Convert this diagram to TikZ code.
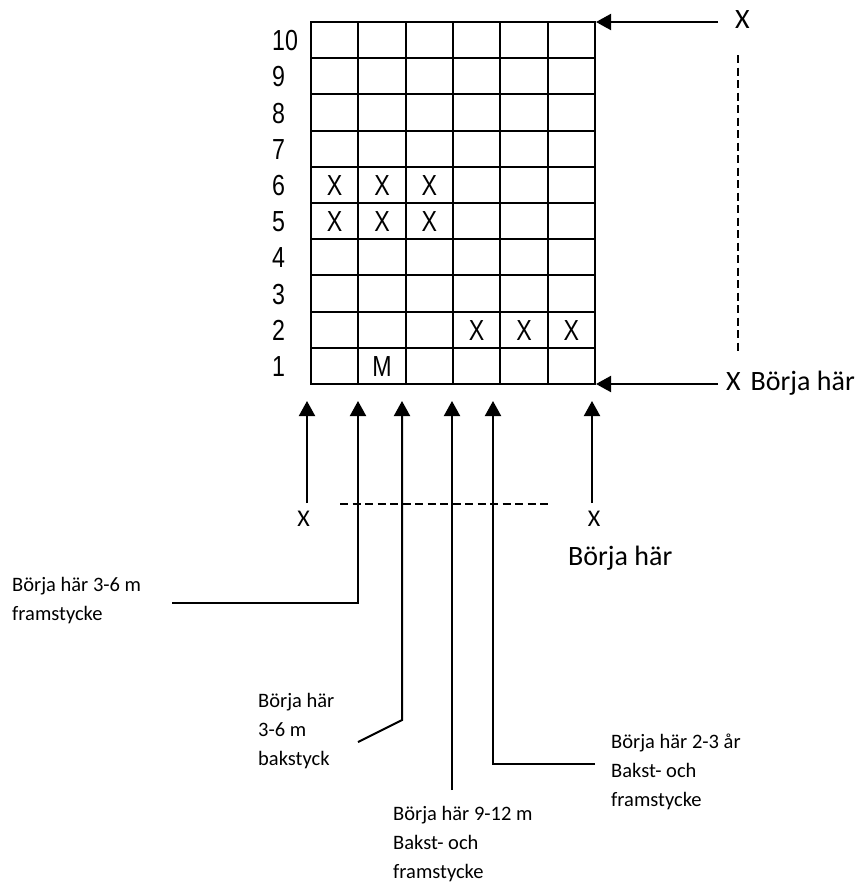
\documentclass[tikz,border=0pt]{standalone}
\usepackage{fontspec}
\setmainfont{Carlito}
\newfontfamily\narrowfont[FakeStretch=0.8]{Liberation Sans}
\usetikzlibrary{arrows.meta}
\newcommand\labtab[1]{\begin{tabular}[t]{@{}l@{}}#1\end{tabular}}
\begin{document}
\begin{tikzpicture}[x=1pt,y=-1pt,
  gridline/.style={line width=2pt},
  arr/.style={line width=2pt, -{Triangle[length=15pt,width=16pt]}},
  dashline/.style={line width=1.3pt, dash pattern=on 8pt off 4.5pt},
  rowlab/.style={font=\narrowfont\fontsize{29}{30}\selectfont, anchor=base west, inner sep=0pt},
  cellx/.style={font=\narrowfont\fontsize{29}{30}\selectfont, anchor=base, inner sep=0pt},
  biglab/.style={font=\fontsize{28}{30}\selectfont, anchor=base west, inner sep=0pt},
  midlab/.style={font=\fontsize{24}{30}\selectfont, anchor=base, inner sep=0pt},
  smalllab/.style={font=\fontsize{20.5}{29}\selectfont, anchor=base west, inner sep=0pt},
]
\useasboundingbox[fill=white] (0,0) rectangle (867,884);
% grid
\foreach \i in {1,...,5} \draw[gridline] ({311+\i*47.33},22) -- ({311+\i*47.33},384);
\foreach \j in {1,...,9} \draw[gridline] (311,{22+\j*36.2}) -- (595,{22+\j*36.2});
\draw[gridline] (311,22) rectangle (595,384);
% row labels
\foreach \r in {1,...,10} \node[rowlab] (row\r) at (272,{384-(\r-0.5)*36.2+10.5}) {\r};
% cell marks
\foreach \c in {1,2,3} {
  \node[cellx] (xa\c) at ({311+(\c-0.5)*47.33},{384-5.5*36.2+10.5}) {X};
  \node[cellx] (xb\c) at ({311+(\c-0.5)*47.33},{384-4.5*36.2+10.5}) {X};
}
\foreach \c in {4,5,6}
  \node[cellx] (xc\c) at ({311+(\c-0.5)*47.33},{384-1.5*36.2+10.5}) {X};
\node[cellx] (m) at ({311+1.5*47.33},{384-0.5*36.2+10.5}) {M};
% right side
\coordinate (rt) at (596,22);
\coordinate (rts) at (718,22);
\coordinate (rb) at (596,384);
\coordinate (rbs) at (718,384);
\draw[arr] (rts) -- (rt);
\draw[arr] (rbs) -- (rb);
\node[biglab] (xtop) at (735,28) {X};
\node[biglab] (xstart) at (726,390) {X\hspace{10pt}Börja här};
\coordinate (dv1) at (738,55);
\coordinate (dv2) at (738,352);
\draw[dashline] (dv1) -- (dv2);
% bottom arrows
\coordinate (t1) at (307,401);
\coordinate (t2) at (358,401);
\coordinate (t3) at (402,401);
\coordinate (t4) at (452,401);
\coordinate (t5) at (493,401);
\coordinate (t6) at (592,401);
\coordinate (s1) at (307,503);
\coordinate (s6) at (592,503);
\draw[arr] (s1) -- (t1);
\draw[arr] (s6) -- (t6);
\node[midlab] (xb1) at (303.5,526) {X};
\node[midlab] (xb6) at (594,526) {X};
\coordinate (dh1) at (340,504);
\coordinate (dh2) at (548,504);
\draw[dashline] (dh1) -- (dh2);
\node[biglab] (bstart) at (568,565) {Börja här};
% bent leaders
\coordinate (s2) at (172,603);
\coordinate (b2) at (358,603);
\draw[arr] (s2) -- (b2) -- (t2);
\coordinate (s3) at (358,742);
\coordinate (b3) at (402,720);
\draw[arr] (s3) -- (b3) -- (t3);
\coordinate (s4) at (452,790);
\draw[arr] (s4) -- (t4);
\coordinate (s5) at (595,764);
\coordinate (b5) at (493,764);
\draw[arr] (s5) -- (b5) -- (t5);
% labels
\node[smalllab] (l2) at (12,591) {\labtab{Börja här 3-6 m\\framstycke}};
\node[smalllab] (l3) at (258,707) {\labtab{Börja här\\3-6 m\\bakstyck}};
\node[smalllab] (l4) at (393,820) {\labtab{Börja här 9-12 m\\Bakst- och\\framstycke}};
\node[smalllab] (l5) at (611,748) {\labtab{Börja här 2-3 år\\Bakst- och\\framstycke}};
\end{tikzpicture}
\end{document}
